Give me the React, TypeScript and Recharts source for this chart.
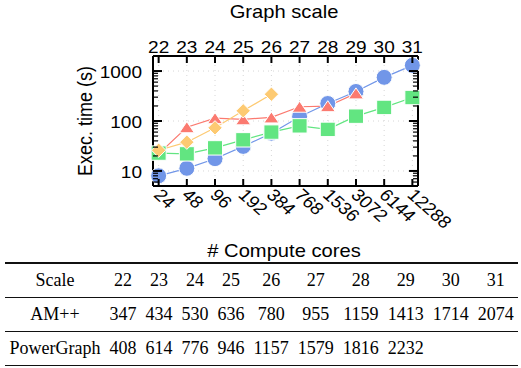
import React from 'react'
import { LineChart, Line, XAxis, YAxis, ReferenceLine } from 'recharts'

// graph scale (top axis) and matching core counts (bottom axis)
const scales = [22, 23, 24, 25, 26, 27, 28, 29, 30, 31]
const cores = [24, 48, 96, 192, 384, 768, 1536, 3072, 6144, 12288]

// exec. time in seconds
const circleTimes = [8, 11.3, 17.6, 31, 57, 122, 224, 390, 748, 1300]
const triangleTimes = [22, 75, 114, 108, 118, 193, 198, 357, null, null]
const diamondTimes = [26, 37.7, 73, 160, 344, null, null, null, null, null]
const squareTimes = [22.8, 22, 29, 42, 60, 80, 68, 125, 187, 295]

const majorTicks = [10, 100, 1000]
const yTicks = [
  6, 7, 8, 9, 10, 20, 30, 40, 50, 60, 70, 80, 90,
  100, 200, 300, 400, 500, 600, 700, 800, 900, 1000, 2000,
]

// table below the chart
const amppRow = [347, 434, 530, 636, 780, 955, 1159, 1413, 1714, 2074]
const powerGraphRow = [408, 614, 776, 946, 1157, 1579, 1816, 2232]

const BLUE = '#7196e8'
const RED = '#fb7a70'
const ORANGE = '#fdca72'
const GREEN = '#62e581'

const SANS = '"Liberation Sans", Arial, Helvetica, sans-serif'
const SERIF = '"Liberation Serif", "Times New Roman", serif'
const STRETCH = 1.12

const data = scales.map((scale, i) => ({
  scale,
  circle: circleTimes[i],
  triangle: triangleTimes[i],
  diamond: diamondTimes[i],
  square: squareTimes[i],
}))

function TopTick({ x, y, payload }: any) {
  return (
    <g>
      <line x1={x} y1={y} x2={x} y2={y + 7} stroke="#000" strokeWidth={2} />
      <text
        transform={`translate(${x},${y - 3}) scale(${STRETCH},1)`}
        textAnchor="middle"
        fontSize={17}
        fontFamily={SANS}
        fill="#000"
      >
        {payload.value}
      </text>
    </g>
  )
}

function BottomTick({ x, y, payload }: any) {
  const label = cores[scales.indexOf(payload.value)]
  return (
    <g>
      <line x1={x} y1={y} x2={x} y2={y - 7} stroke="#000" strokeWidth={2} />
      <text
        transform={`translate(${x - 6},${y + 10}) scale(${STRETCH},1) rotate(45)`}
        fontSize={17}
        fontFamily={SANS}
        fill="#000"
      >
        {label}
      </text>
    </g>
  )
}

function LeftTick({ x, y, payload }: any) {
  const major = majorTicks.includes(payload.value)
  return (
    <g>
      <line x1={x} y1={y} x2={x + (major ? 9 : 5)} y2={y} stroke="#000" strokeWidth={major ? 2 : 1.2} />
      {major && (
        <text
          transform={`translate(${x - 11},${y + 7}) scale(${STRETCH},1)`}
          textAnchor="end"
          fontSize={17}
          fontFamily={SANS}
          fill="#000"
        >
          {payload.value}
        </text>
      )}
    </g>
  )
}

function RightTick({ x, y, payload }: any) {
  const major = majorTicks.includes(payload.value)
  return <line x1={x} y1={y} x2={x - (major ? 9 : 5)} y2={y} stroke="#000" strokeWidth={major ? 2 : 1.2} />
}

const circleDot = (p: any) =>
  p.cy == null ? <g key={`c${p.index}`} /> : (
    <circle key={`c${p.index}`} cx={p.cx} cy={p.cy} r={8} fill={BLUE} stroke="#fff" strokeWidth={1} />
  )

const triangleDot = (p: any) =>
  p.cy == null ? <g key={`t${p.index}`} /> : (
    <polygon
      key={`t${p.index}`}
      points={`${p.cx},${p.cy - 5.5} ${p.cx - 7.5},${p.cy + 5.5} ${p.cx + 7.5},${p.cy + 5.5}`}
      fill={RED}
      stroke="#fff"
      strokeWidth={1}
    />
  )

const diamondDot = (p: any) =>
  p.cy == null ? <g key={`d${p.index}`} /> : (
    <polygon
      key={`d${p.index}`}
      points={`${p.cx},${p.cy - 7.2} ${p.cx + 7.2},${p.cy} ${p.cx},${p.cy + 7.2} ${p.cx - 7.2},${p.cy}`}
      fill={ORANGE}
      stroke="#fff"
      strokeWidth={1}
    />
  )

const squareDot = (p: any) =>
  p.cy == null ? <g key={`s${p.index}`} /> : (
    <rect key={`s${p.index}`} x={p.cx - 7.5} y={p.cy - 7.2} width={15} height={14.4} fill={GREEN} stroke="#fff" strokeWidth={1} />
  )

const cellStyle = (first: boolean): React.CSSProperties => ({
  padding: '0 4.5px',
  textAlign: 'center',
  whiteSpace: 'nowrap',
  height: 33,
  borderTop: first ? '2px solid #111' : undefined,
  borderBottom: '1.5px solid #111',
})

export default function App() {
  return (
    <div style={{ position: 'fixed', left: 0, top: 0, width: 521, height: 368, overflow: 'hidden', background: '#fff' }}>
      <div style={{ position: 'absolute', left: 0, top: 0 }}>
        <LineChart width={521} height={262} data={data} margin={{ top: 0, right: 83, bottom: 0, left: 0 }}>
          <XAxis
            xAxisId="top"
            orientation="top"
            type="number"
            dataKey="scale"
            domain={[21.8, 31.2]}
            ticks={scales}
            height={56}
            tickSize={0}
            tickMargin={0}
            tickLine={false}
            axisLine={{ stroke: '#000', strokeWidth: 2 }}
            tick={<TopTick />}
            interval={0}
          />
          <XAxis
            xAxisId="bottom"
            orientation="bottom"
            type="number"
            dataKey="scale"
            domain={[21.8, 31.2]}
            ticks={scales}
            height={76}
            tickSize={0}
            tickMargin={0}
            tickLine={false}
            axisLine={{ stroke: '#000', strokeWidth: 2 }}
            tick={<BottomTick />}
            interval={0}
          />
          <YAxis
            yAxisId="left"
            scale="log"
            type="number"
            domain={[5, 2000]}
            allowDataOverflow
            ticks={yTicks}
            width={153}
            tickSize={0}
            tickMargin={0}
            tickLine={false}
            axisLine={{ stroke: '#000', strokeWidth: 2 }}
            tick={<LeftTick />}
            interval={0}
          />
          <YAxis
            yAxisId="right"
            orientation="right"
            scale="log"
            type="number"
            domain={[5, 2000]}
            allowDataOverflow
            ticks={yTicks}
            width={20}
            tickSize={0}
            tickMargin={0}
            tickLine={false}
            axisLine={{ stroke: '#000', strokeWidth: 2 }}
            tick={<RightTick />}
            interval={0}
          />
          {scales.map((s) => (
            <ReferenceLine key={`vx${s}`} x={s} xAxisId="bottom" yAxisId="left" stroke="#d6d6d6" strokeDasharray="1 4" />
          ))}
          {majorTicks.map((t) => (
            <ReferenceLine key={`hy${t}`} y={t} xAxisId="bottom" yAxisId="left" stroke="#d6d6d6" strokeDasharray="1 4" />
          ))}
          <Line xAxisId="top" yAxisId="left" dataKey="circle" stroke={BLUE} strokeWidth={1.2} dot={circleDot} activeDot={false} isAnimationActive={false} />
          <Line xAxisId="top" yAxisId="left" dataKey="triangle" stroke={RED} strokeWidth={1.2} dot={triangleDot} activeDot={false} isAnimationActive={false} />
          <Line xAxisId="top" yAxisId="left" dataKey="square" stroke={GREEN} strokeWidth={1.2} dot={squareDot} activeDot={false} isAnimationActive={false} />
          <Line xAxisId="top" yAxisId="left" dataKey="diamond" stroke={ORANGE} strokeWidth={1.2} dot={diamondDot} activeDot={false} isAnimationActive={false} />
        </LineChart>
      </div>

      <svg width={521} height={368} style={{ position: 'absolute', left: 0, top: 0, pointerEvents: 'none' }}>
        <text transform={`translate(284,18) scale(${STRETCH},1)`} textAnchor="middle" fontSize={18} fontFamily={SANS} fill="#000">
          Graph scale
        </text>
        <text transform={`translate(284,257) scale(${STRETCH},1)`} textAnchor="middle" fontSize={18} fontFamily={SANS} fill="#000">
          # Compute cores
        </text>
        <text transform={`translate(92,121) scale(${STRETCH},1) rotate(-90)`} textAnchor="middle" fontSize={18} fontFamily={SANS} fill="#000">
          Exec. time (s)
        </text>
      </svg>

      <table
        style={{
          position: 'absolute',
          left: 5,
          top: 262,
          borderCollapse: 'collapse',
          fontFamily: SERIF,
          fontSize: 18,
          color: '#000',
        }}
      >
        <tbody>
          <tr>
            <td style={cellStyle(true)}>Scale</td>
            {scales.map((s) => (
              <td key={s} style={cellStyle(true)}>{s}</td>
            ))}
          </tr>
          <tr>
            <td style={cellStyle(false)}>AM++</td>
            {amppRow.map((v, i) => (
              <td key={i} style={cellStyle(false)}>{v}</td>
            ))}
          </tr>
          <tr>
            <td style={cellStyle(false)}>PowerGraph</td>
            {scales.map((_, i) => (
              <td key={i} style={cellStyle(false)}>{powerGraphRow[i] ?? ''}</td>
            ))}
          </tr>
        </tbody>
      </table>
    </div>
  )
}
